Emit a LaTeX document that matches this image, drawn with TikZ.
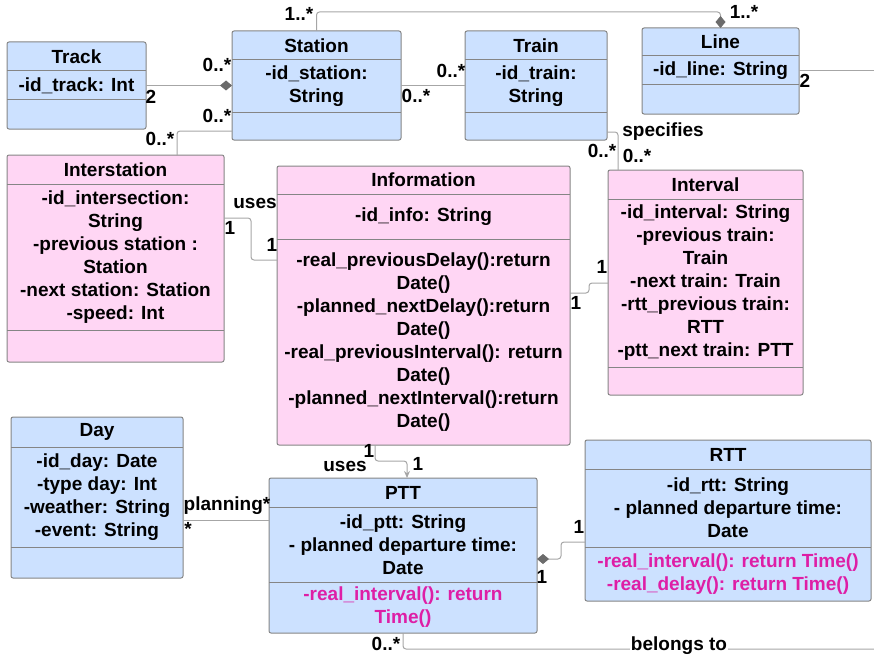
\documentclass[tikz,border=0pt]{standalone}
\usepackage{fontspec}
\setmainfont{Liberation Sans}
\usetikzlibrary{arrows.meta}
\definecolor{bluefill}{HTML}{CCE1FF}
\definecolor{pinkfill}{HTML}{FFD6F4}
\definecolor{boxline}{HTML}{858585}
\definecolor{connline}{HTML}{A6A6A6}
\definecolor{diamondc}{HTML}{6B6B6B}
\definecolor{methodc}{HTML}{DE1EA6}
\tikzset{
  classbox/.style={draw=boxline, line width=1pt, rounded corners=2pt, anchor=north west, inner sep=0pt, outer sep=0pt},
  bluebox/.style={fill=bluefill},
  pinkbox/.style={fill=pinkfill},
  divider/.style={draw=boxline, line width=1pt},
  txt/.style={align=center, inner sep=0pt, font=\fontsize{19}{23}\selectfont\bfseries},
  meth/.style={txt, text=methodc},
  conn/.style={draw=connline, line width=1pt, rounded corners=3pt},
  mult/.style={inner sep=0pt, font=\fontsize{19}{23}\selectfont\bfseries},
  dia/.style={-{Diamond[length=12pt,width=10pt,color=diamondc]}},
  diastart/.style={{Diamond[length=12pt,width=10pt,color=diamondc]}-},
  arr/.style={-{Stealth[length=7pt,width=6pt,color=connline]}}
}
\newcommand\boxgeom[6]{\def\bxl{#1}\def\bxr{#2}\def\byt{#3}\def\byh{#4}\def\bya{#5}\def\byb{#6}}
\newcommand\umlclass[6][txt]{%
  \node[classbox,#3,minimum width={(\bxr-\bxl)*1pt},minimum height={(\byb-\byt)*1pt}] (#2) at (\bxl,\byt) {};
  \draw[divider] (\bxl,\byh) -- (\bxr,\byh);
  \draw[divider] (\bxl,\bya) -- (\bxr,\bya);
  \node[txt] (#2-title) at ({(\bxl+\bxr)/2},{(\byt+\byh)/2}) {#4};
  \node[txt] (#2-attr) at ({(\bxl+\bxr)/2},{(\byh+\bya)/2}) {#5};
  \node[#1] (#2-meth) at ({(\bxl+\bxr)/2},{(\bya+\byb)/2}) {#6};
}
\begin{document}
\begin{tikzpicture}[x=1pt,y=-1pt]
\useasboundingbox (0,0) rectangle (874,658);

% classes
\boxgeom{7}{146}{42}{71}{100}{129}
\umlclass{track}{bluebox}{Track}{-id\_track: Int}{}
\boxgeom{232}{401}{31}{60}{112}{140}
\umlclass{station}{bluebox}{Station}{-id\_station:\\String}{}
\boxgeom{465}{607}{31}{60}{112}{140}
\umlclass{train}{bluebox}{Train}{-id\_train:\\String}{}
\boxgeom{642}{799}{28}{56}{85}{114}
\umlclass{line}{bluebox}{Line}{-id\_line: String}{}
\boxgeom{7}{224}{155}{184}{330}{362}
\umlclass{interstation}{pinkbox}{Interstation}{-id\_intersection:\\String\\-previous station :\\Station\\-next station: Station\\-speed: Int}{}
\boxgeom{277}{570}{166}{194}{239}{445}
\umlclass{information}{pinkbox}{Information}{-id\_info: String}{-real\_previousDelay():return\\Date()\\-planned\_nextDelay():return\\Date()\\-real\_previousInterval(): return\\Date()\\-planned\_nextInterval():return\\Date()}
\boxgeom{608}{803}{170}{199}{367}{395}
\umlclass{interval}{pinkbox}{Interval}{-id\_interval: String\\-previous train:\\Train\\-next train: Train\\-rtt\_previous train:\\RTT\\-ptt\_next train: PTT}{}
\boxgeom{11}{183}{417}{447}{547}{578}
\umlclass{day}{bluebox}{Day}{-id\_day: Date\\-type day: Int\\-weather: String\\-event: String}{}
\boxgeom{269}{537}{478}{507}{582}{633}
\umlclass[meth]{ptt}{bluebox}{PTT}{-id\_ptt: String\\- planned departure time:\\Date}{-real\_interval(): return\\Time()}
\boxgeom{585}{871}{440}{469}{547}{601}
\umlclass[meth]{rtt}{bluebox}{RTT}{-id\_rtt: String\\- planned departure time:\\Date}{-real\_interval(): return Time()\\-real\_delay(): return Time()}

% free ends
\coordinate (lineend) at (874,71);
\coordinate (belongsend) at (874,649);

% connectors
\draw[conn,dia] (station.north) -- ++(0,-19) -| (line.north);
\draw[conn,dia] (track.east) -- (station.west);
\draw[conn] (station.east) -- (train.west);
\draw[conn] (station.west |- 0,131) -| (177,0 |- interstation.north);
\draw[conn] (train.east |- 0,132) -| (618,0 |- interval.north);
\draw[conn] (line.east |- 0,71) -- (lineend);
\draw[conn] (interstation.east |- 0,218) -- (251,218) -- (251,260) -- (information.west |- 0,260);
\draw[conn] (information.east |- 0,293) -- (589,293) -- (589,283) -- (interval.west |- 0,283);
\draw[conn,arr] (375,0 |- information.south) -- (375,461) -- (407,461) -- (407,0 |- ptt.north);
\draw[conn] (day.east |- 0,520) -- (ptt.west |- 0,520);
\draw[conn,diastart] (ptt.east |- 0,559) -- (561,559) -- (561,542) -- (rtt.west |- 0,542);
\draw[conn] (403,0 |- ptt.south) -- (403,649) -- (belongsend);

% multiplicities and labels
\node[mult] (m1) at (299,14) {1..*};
\node[mult] (m2) at (744,12) {1..*};
\node[mult] (m3) at (217,65) {0..*};
\node[mult] (m4) at (151,97) {2};
\node[mult] (m5) at (217,116) {0..*};
\node[mult] (m6) at (160,139) {0..*};
\node[mult] (m7) at (416,96) {0..*};
\node[mult] (m8) at (451,71) {0..*};
\node[mult] (m9) at (663,132) {specifies};
\node[mult] (m10) at (602,151) {0..*};
\node[mult] (m11) at (637,156) {0..*};
\node[mult] (m12) at (805,81) {2};
\node[mult] (m13) at (255,203) {uses};
\node[mult] (m14) at (230,228) {1};
\node[mult] (m15) at (272,245) {1};
\node[mult] (m16) at (602,267) {1};
\node[mult] (m17) at (576,303) {1};
\node[mult] (m18) at (369,451) {1};
\node[mult] (m19) at (345,466) {uses};
\node[mult] (m20) at (418,464) {1};
\node[mult] (m21) at (227,506) {planning*};
\node[mult] (m22) at (188,529) {*};
\node[mult] (m23) at (579,527) {1};
\node[mult] (m24) at (542,577) {1};
\node[mult] (m25) at (386,644) {0..*};
\node[mult,fill=white,inner sep=1pt] (m26) at (679,646) {belongs to};
\end{tikzpicture}
\end{document}
